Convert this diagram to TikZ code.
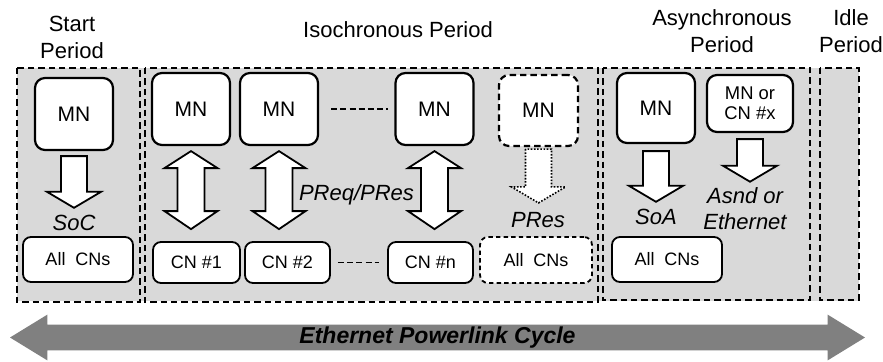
\documentclass[tikz,border=0pt]{standalone}
\usepackage{fontspec}
\setmainfont{Liberation Sans}
\usetikzlibrary{calc, shapes.arrows}

\begin{document}
\begin{tikzpicture}[
		x=0.5pt, y=-0.5pt,
		periode/.style={draw, dash pattern=on 3.2pt off 2pt, line width=1pt},
		mn/.style={draw, rectangle, rounded corners=5pt, fill=white, line width=1.1pt, minimum width=39pt, minimum height=36pt, align=center, font=\fontsize{10.5}{12}\selectfont},
		mnputus/.style={mn, dash pattern=on 3.2pt off 2pt},
		cn/.style={draw, rectangle, rounded corners=4pt, fill=white, line width=0.9pt, minimum width=43pt, minimum height=20.5pt, align=center, font=\fontsize{9}{10}\selectfont},
		cnputus/.style={cn, dash pattern=on 2.2pt off 1.6pt},
		judul/.style={align=center, inner sep=0pt, font=\fontsize{11}{13.5}\selectfont},
		pesan/.style={align=center, inner sep=0pt, font=\fontsize{11}{13.3}\selectfont\itshape},
		garisputus/.style={line width=0.9pt, dash pattern=on 3pt off 1.6pt},
		panahblok/.style={draw, fill=white, line width=0.9pt, line join=miter,
			to path={let \p1=(\tikztostart), \p2=(\tikztotarget) in
				(\x1-6.5pt,\y1) -- (\x1-6.5pt,\y2+8pt) -- (\x1-13.5pt,\y2+8pt) -- (\x1,\y2)
				-- (\x1+13.5pt,\y2+8pt) -- (\x1+6.5pt,\y2+8pt) -- (\x1+6.5pt,\y1) -- cycle}},
		panahputus/.style={panahblok, line width=0.8pt, dash pattern=on 0.8pt off 0.8pt},
		panahganda/.style={draw, fill=white, line width=0.9pt, line join=miter,
			to path={let \p1=(\tikztostart), \p2=(\tikztotarget) in
				(\x1,\y1) -- (\x1+13.25pt,\y1-8.5pt) -- (\x1+6.75pt,\y1-8.5pt) -- (\x1+6.75pt,\y2+9pt)
				-- (\x1+13.25pt,\y2+9pt) -- (\x1,\y2) -- (\x1-13.25pt,\y2+9pt) -- (\x1-6.75pt,\y2+9pt)
				-- (\x1-6.75pt,\y1-8.5pt) -- (\x1-13.25pt,\y1-8.5pt) -- cycle}}
	]
	\useasboundingbox (0,0) rectangle (883,361);

	% Judul periode
	\node[judul] (hStart) at (72,37.5) {Start\\Period};
	\node[judul] (hIso) at (398,30) {Isochronous Period};
	\node[judul] (hAsync) at (722,31) {Asynchronous\\Period};
	\node[judul] (hIdle) at (851,31) {Idle\\Period};

	% Kotak periode
	\fill[gray!30] (17,68) rectangle (859,301);
	\draw[periode] (17,68) rectangle (140,302);
	\draw[periode] (145,68) rectangle (598,302);
	\draw[periode] (603,68) rectangle (810,300);
	\draw[periode] (820,68) rectangle (859,300);

	% Start period
	\node[mn] (mnS) at (74,114) {MN};
	\node[pesan] (soc) at (74,223) {SoC};
	\node[cn, minimum width=55pt, minimum height=22.5pt] (allS) at (78,259.5) {All\ \ CNs};

	% Isochronous period
	\node[mn] (mnA) at (191,109) {MN};
	\node[mn] (mnB) at (279,109) {MN};
	\node[mn] (mnC) at (434.5,109) {MN};
	\node[mnputus, minimum width=39.5pt, minimum height=35.5pt] (mnD) at (538.5,110.5) {MN};
	\node[cn, minimum width=43.5pt] (cnA) at (196.5,262.5) {CN \#1};
	\node[cn, minimum width=42.5pt] (cnB) at (287.5,262.5) {CN \#2};
	\node[cn, minimum width=42.5pt] (cnN) at (430.5,262.5) {CN \#n};
	\node[cnputus, minimum width=56pt, minimum height=23pt] (allD) at (536,260) {All\ \ CNs};
	\node[pesan] (preq) at (356.5,194.5) {PReq/PRes};
	\node[pesan] (pres) at (538,220) {PRes};

	% Asynchronous period
	\node[mn, minimum height=35pt] (mnE) at (656,108) {MN};
	\node[mn, minimum width=43pt, minimum height=28.5pt, font=\fontsize{9.2}{10}\selectfont] (mnx) at (750,103.5) {MN or\\CN \#x};
	\node[pesan] (soa) at (656,217) {SoA};
	\node[pesan] (asnd) at (745,208.5) {Asnd or\\Ethernet};
	\node[cn, minimum width=55pt, minimum height=22.5pt] (allE) at (667,259.5) {All\ \ CNs};

	% Panah pesan
	\draw[panahblok] ($(mnS.south)+(0,5)$) to ($(soc.north)+(0,-7)$);
	\draw[panahganda] ($(mnA.south)+(0,5)$) to ($(cnA.north)+(0,-12)$);
	\draw[panahganda] ($(mnB.south)+(0,5)$) to ($(cnB.north)+(0,-12)$);
	\draw[panahganda] ($(mnC.south)+(0,5)$) to ($(cnN.north)+(0,-12)$);
	\draw[panahputus] ($(mnD.south)+(0,2)$) to ($(pres.north)+(0,-9)$);
	\draw[panahblok] ($(mnE.south)+(0,7)$) to ($(soa.north)+(0,-7)$);
	\draw[panahblok] ($(mnx.south)+(0,6)$) to ($(asnd.north)+(0,-5)$);

	% Garis putus antar node
	\draw[garisputus, shorten <=6pt, shorten >=3pt] (mnB) -- (mnC);
	\draw[garisputus, shorten <=3.5pt, shorten >=4pt] (cnB) -- (cnN);

	% Siklus
	\node[double arrow, fill=gray, draw=none, minimum height=427.5pt, double arrow head extend=5pt,
		double arrow tip angle=63, inner xsep=0pt, inner ysep=0.75pt, text height=8.5pt, text depth=2.5pt,
		font=\fontsize{11.5}{13}\selectfont\bfseries\itshape] (siklus) at (437.5,337.5) {Ethernet Powerlink Cycle};
\end{tikzpicture}
\end{document}
